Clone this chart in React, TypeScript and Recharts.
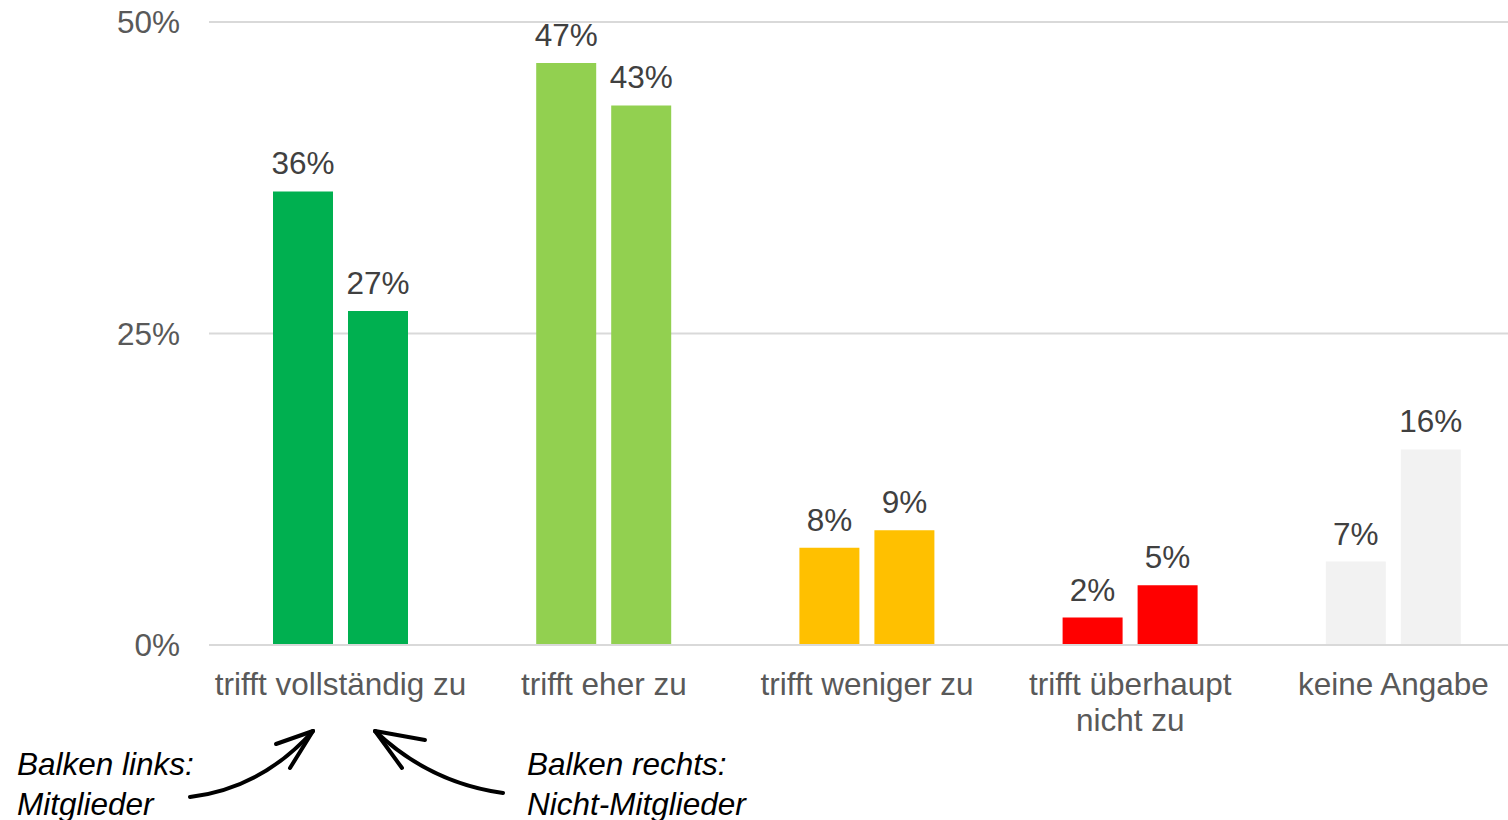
import { BarChart, Bar, XAxis, YAxis, CartesianGrid, Cell, LabelList } from "recharts";

const categories = [
  "trifft vollständig zu",
  "trifft eher zu",
  "trifft weniger zu",
  "trifft überhaupt\nnicht zu",
  "keine Angabe",
];
const mitglieder = [36.4, 46.7, 7.8, 2.2, 6.7];
const nichtMitglieder = [26.8, 43.3, 9.2, 4.8, 15.7];
const colors = ["#00B050", "#92D050", "#FFC000", "#FF0000", "#F2F2F2"];
const yTicks = [0, 25, 50];

const data = categories.map((name, i) => ({
  name,
  links: mitglieder[i],
  rechts: nichtMitglieder[i],
}));

const FONT = "'Liberation Sans', Arial, sans-serif";

const CategoryTick = (props: any) => {
  const { x, y, payload } = props;
  const lines = String(payload.value).split("\n");
  return (
    <text
      x={x}
      y={y + 42}
      textAnchor="middle"
      fill="#595959"
      fontSize={31.5}
      fontFamily={FONT}
    >
      {lines.map((l, i) => (
        <tspan key={i} x={x} dy={i === 0 ? 0 : 36}>
          {l}
        </tspan>
      ))}
    </text>
  );
};

const pct = (v: any) => `${Math.round(Number(v))}%`;

export default function App() {
  return (
    <div style={{ position: "absolute", left: 0, top: 0, width: 1508, height: 820, background: "#fff", overflow: "hidden" }}>
      <BarChart
        width={1525}
        height={820}
        data={data}
        margin={{ top: 22, right: 0, bottom: 0, left: 0 }}
        barCategoryGap="24%"
        barGap={15}
        style={{ fontFamily: FONT }}
      >
        <CartesianGrid vertical={false} stroke="#d9d9d9" strokeWidth={2} />
        <XAxis
          dataKey="name"
          height={175}
          axisLine={{ stroke: "#d9d9d9", strokeWidth: 2 }}
          tickLine={false}
          interval={0}
          tick={<CategoryTick />}
        />
        <YAxis
          width={209}
          domain={[0, 50]}
          ticks={yTicks}
          axisLine={false}
          tickLine={false}
          tickMargin={23}
          tickFormatter={(v) => `${v}%`}
          tick={{ fill: "#595959", fontSize: 31.5, fontFamily: FONT }}
        />
        <Bar dataKey="links" barSize={60} isAnimationActive={false}>
          {data.map((_, i) => (
            <Cell key={i} fill={colors[i]} />
          ))}
          <LabelList
            dataKey="links"
            position="top"
            offset={17}
            formatter={pct}
            fill="#404040"
            fontSize={31.5}
            fontFamily={FONT}
          />
        </Bar>
        <Bar dataKey="rechts" barSize={60} isAnimationActive={false}>
          {data.map((_, i) => (
            <Cell key={i} fill={colors[i]} />
          ))}
          <LabelList
            dataKey="rechts"
            position="top"
            offset={17}
            formatter={pct}
            fill="#404040"
            fontSize={31.5}
            fontFamily={FONT}
          />
        </Bar>
      </BarChart>

      {/* annotation: which bar is which */}
      <div
        style={{
          position: "absolute",
          left: 17,
          top: 744,
          fontFamily: FONT,
          fontStyle: "italic",
          fontSize: 31.5,
          lineHeight: "40px",
          color: "#000",
        }}
      >
        Balken links:
        <br />
        Mitglieder
      </div>
      <div
        style={{
          position: "absolute",
          left: 527,
          top: 744,
          fontFamily: FONT,
          fontStyle: "italic",
          fontSize: 31.5,
          lineHeight: "40px",
          color: "#000",
        }}
      >
        Balken rechts:
        <br />
        Nicht-Mitglieder
      </div>
      <svg
        width={1508}
        height={820}
        style={{ position: "absolute", left: 0, top: 0, pointerEvents: "none" }}
      >
        <g fill="none" stroke="#000" strokeWidth={4} strokeLinecap="round">
          <path d="M190 797 Q 262 788 313 731" />
          <path d="M313 731 L 276 744" />
          <path d="M313 731 L 290 768" />
          <path d="M503 793 Q 430 783 375 731" />
          <path d="M375 731 L 425 740" />
          <path d="M375 731 L 402 768" />
        </g>
      </svg>
    </div>
  );
}
